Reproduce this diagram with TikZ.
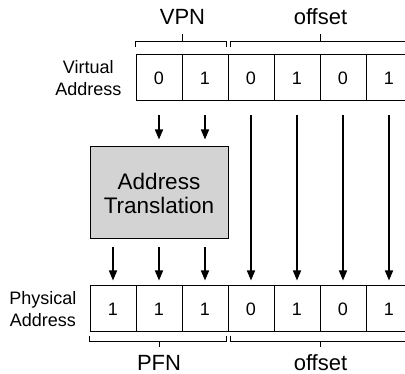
\documentclass[tikz,border=0pt]{standalone}
\usepackage{fontspec}
\setmainfont{Liberation Sans}
\usetikzlibrary{positioning, arrows.meta}
\definecolor{boxgray}{RGB}{211,211,211}

\tikzset{
  bit/.style={rectangle, draw=black, line width=1pt, minimum width=46pt, minimum height=46pt, inner sep=0pt},
  side/.style={align=center, inner sep=0pt},
  trans/.style={rectangle, draw=black, fill=boxgray, line width=1pt, minimum width=138pt, minimum height=92pt, inner sep=0pt, align=center, font=\fontsize{22.5}{24}\selectfont},
  lab/.style={inner sep=0pt, font=\fontsize{22}{24}\selectfont},
  brk/.style={line width=0.8pt},
  arr/.style={line width=1.6pt, -{Triangle[width=8pt, length=10pt]}}
}

\begin{document}
\begin{tikzpicture}[x=1pt, y=1pt, font=\fontsize{18}{22}\selectfont]
\path[use as bounding box, clip] (0,0) rectangle (405,-374);

%%% VIRTUAL ADDRESS
\foreach \b [count=\i] in {0,1,0,1,0,1}
  \node[bit] (v\i) at ({159+46*(\i-1)},-78) {\b};
\node[side, left=14pt of v1] (virt-lab) {Virtual\\Address};

%%% ADDRESS TRANSLATION
\node[trans] (trans) at (159,-193) {Address\\Translation};

%%% PHYSICAL ADDRESS
\foreach \b [count=\i] in {1,1,1,0,1,0,1}
  \node[bit] (p\i) at ({113+46*(\i-1)},-309) {\b};
\node[side, left=13pt of p1] (phys-lab) {Physical\\Address};

%%% brackets, labels
\draw[brk] ([yshift=7pt]v1.north west) -- ++(0,6) -| ([xshift=-2pt,yshift=7pt]v2.north east);
\draw[brk] ([yshift=13pt]v1.north east) -- ++(0,7) coordinate (vpn-tip);
\node[lab, above=10pt of vpn-tip, anchor=base] (vpn) {VPN};

\draw[brk] ([xshift=3pt,yshift=7pt]v3.north west) -- ++(0,6) -| ([yshift=7pt]v6.north east);
\draw[brk] ([yshift=13pt]v4.north east) -- ++(0,7) coordinate (voff-tip);
\node[lab, above=10pt of voff-tip, anchor=base] (voff) {offset};

\draw[brk] ([yshift=-4pt]p1.south west) -- ++(0,-5) -| ([xshift=-2pt,yshift=-4pt]p3.south east);
\draw[brk] ([yshift=-9pt]p2.south) -- ++(0,-6) coordinate (pfn-tip);
\node[lab, below=23.5pt of pfn-tip, anchor=base] (pfn) {PFN};

\draw[brk] ([xshift=3pt,yshift=-4pt]p4.south west) -- ++(0,-5) -| ([yshift=-4pt]p7.south east);
\draw[brk] ([yshift=-9pt]p5.south east) -- ++(0,-6) coordinate (poff-tip);
\node[lab, below=23.5pt of poff-tip, anchor=base] (poff) {offset};

%%% arrows
\foreach \i in {1,2}
  \draw[arr, shorten <=14pt, shorten >=7pt] (v\i.south) -- (v\i.south |- trans.north);
\foreach \i in {1,2,3}
  \draw[arr, shorten <=8pt, shorten >=5pt] (trans.south -| p\i) -- (p\i.north);
\foreach \i/\j in {3/4,4/5,5/6,6/7}
  \draw[arr, shorten <=14pt, shorten >=5pt] (v\i.south) -- (p\j.north);

\end{tikzpicture}
\end{document}
